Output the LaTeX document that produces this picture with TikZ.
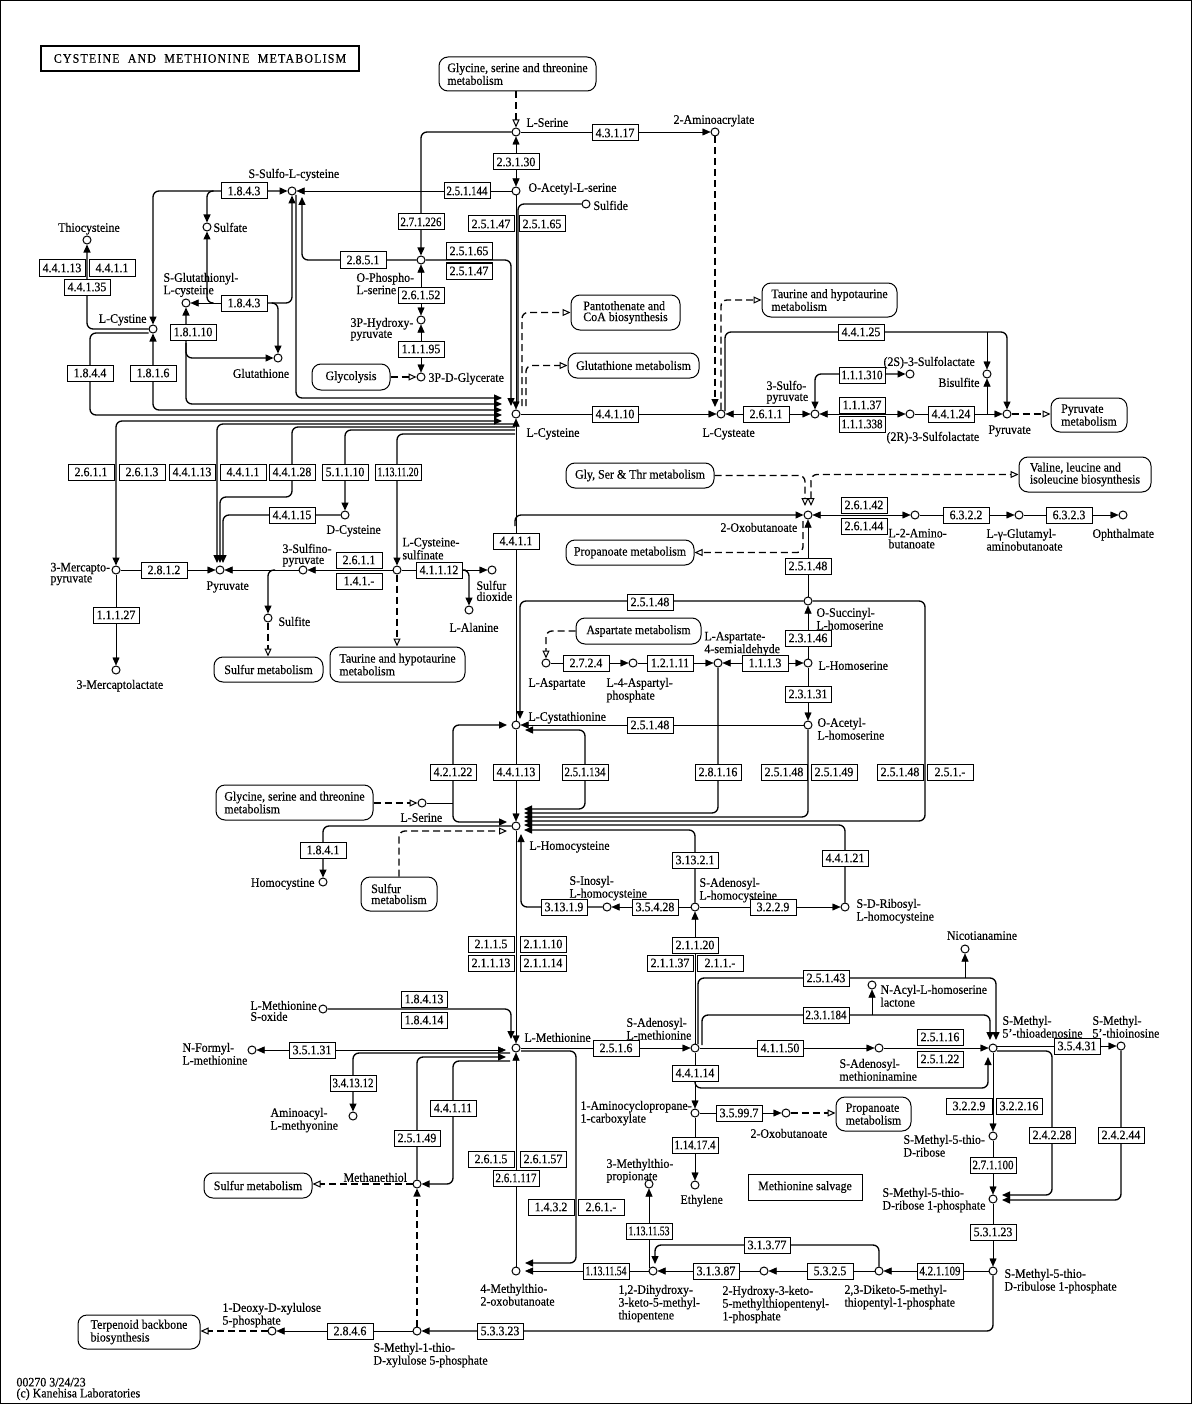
\documentclass[tikz,border=0pt]{standalone}
\usepackage{fontspec}
\setmainfont{Liberation Serif}[FakeStretch=0.92,FakeBold=0.3]
\newfontfamily\titlefont{Liberation Serif}[LetterSpace=9,FakeStretch=0.92,FakeBold=0.3]
\usepackage{graphicx}
\usetikzlibrary{arrows.meta,calc}
\pgfdeclarelayer{bg}
\pgfsetlayers{bg,main}
\newsavebox\ecbx
\newcommand\fitec[1]{\sbox\ecbx{#1}\ifdim\wd\ecbx>41bp\resizebox{41bp}{\height}{\usebox\ecbx}\else\usebox\ecbx\fi}
\newcommand\ts{\rule{0pt}{9pt}}
\begin{document}
\begin{tikzpicture}[x=1bp,y=-1bp,line width=1bp,
  font=\fontsize{13}{11}\selectfont,
  cpd/.style={circle,draw,fill=white,minimum size=8bp,inner sep=0pt},
  ec/.style={draw,fill=white,minimum width=46bp,minimum height=16bp,inner sep=0pt},
  mapb/.style={draw,fill=white,rounded corners=9bp,inner sep=0pt,align=left},
  lbl/.style={inner sep=0pt,anchor=north west,yshift=4.7pt,align=left,execute at begin node=\ts},
  lblr/.style={lbl,anchor=north east,align=right},
  lblc/.style={lbl,anchor=north,align=center},
  ln/.style={rounded corners=6bp},
  bd/.style={line width=1.35bp},
  ar/.style={ln,-{Triangle[length=8bp,width=7bp]}},
  ar2/.style={ln,{Triangle[length=8bp,width=7bp]}-{Triangle[length=8bp,width=7bp]}},
  dsh/.style={dash pattern=on 7bp off 4bp,line width=1.2bp},
  oar/.style={ln,dsh,-{Triangle[open,length=8bp,width=7bp,line width=1bp]}},
  oar2/.style={ln,dsh,{Triangle[open,length=8bp,width=7bp,line width=1bp]}-{Triangle[open,length=8bp,width=7bp,line width=1bp]}}]
\useasboundingbox (0,0) rectangle (1195,1404);

% ---------- title and maps ----------
\node[draw,line width=2bp,minimum width=318bp,minimum height=25bp,inner sep=0pt] (title) at (200,58.5) {\titlefont CYSTEINE\ \ AND\ \ METHIONINE\ \ METABOLISM};
\node[mapb,minimum width=157bp,minimum height=34bp] (mGST1) at (517.5,74) {Glycine, serine and threonine\\metabolism};
\node[mapb,minimum width=109bp,minimum height=35bp] (mPant) at (625.5,312.5) {Pantothenate and\\CoA biosynthesis};
\node[mapb,minimum width=135bp,minimum height=34bp] (mTau1) at (829.5,300) {Taurine and hypotaurine\\metabolism};
\node[mapb,minimum width=78bp,minimum height=26bp] (mGlyc) at (351,377) {Glycolysis};
\node[mapb,minimum width=131bp,minimum height=25bp] (mGSH) at (633.5,365.5) {Glutathione metabolism};
\node[mapb,minimum width=76bp,minimum height=34bp] (mPyr) at (1089,415) {Pyruvate\\metabolism};
\node[mapb,minimum width=148bp,minimum height=25bp] (mGST2) at (640,475.5) {Gly, Ser \& Thr metabolism};
\node[mapb,minimum width=132bp,minimum height=35bp] (mVal) at (1085,474.5) {Valine, leucine and\\isoleucine biosynthesis};
\node[mapb,minimum width=128bp,minimum height=25bp] (mProp1) at (630,552.5) {Propanoate metabolism};
\node[mapb,minimum width=109bp,minimum height=25bp] (mSulf1) at (268.5,669.5) {Sulfur metabolism};
\node[mapb,minimum width=135bp,minimum height=35bp] (mTau2) at (397.5,664.5) {Taurine and hypotaurine\\metabolism};
\node[mapb,minimum width=125bp,minimum height=26bp] (mAsp) at (638.5,631) {Aspartate metabolism};
\node[mapb,minimum width=157bp,minimum height=35bp] (mGST3) at (294.5,802.5) {Glycine, serine and threonine\\metabolism};
\node[mapb,minimum width=76bp,minimum height=34bp] (mSulf2) at (399,894) {Sulfur\\metabolism};
\node[mapb,minimum width=75bp,minimum height=34bp] (mProp2) at (873.5,1114) {Propanoate\\metabolism};
\node[mapb,minimum width=108bp,minimum height=25bp] (mSulf3) at (258,1185.5) {Sulfur metabolism};
\node[mapb,minimum width=122bp,minimum height=34bp] (mTerp) at (139,1332) {Terpenoid backbone\\biosynthesis};
\node[draw,fill=white,minimum width=114bp,minimum height=26bp,inner sep=0pt] (salv) at (805,1187) {Methionine salvage};

% ---------- compounds ----------
\node[cpd] (ser) at (516,132) {};
\node[cpd] (amac) at (715,132) {};
\node[cpd] (oas) at (516,191) {};
\node[cpd] (sulfide) at (586,204) {};
\node[cpd] (ssc) at (292,191) {};
\node[cpd] (sulfate) at (207,227) {};
\node[cpd] (thiocys) at (87,240) {};
\node[cpd] (ophos) at (421,260) {};
\node[cpd] (sglc) at (186,303) {};
\node[cpd] (cystine) at (153,329) {};
\node[cpd] (hpyr) at (421,320) {};
\node[cpd] (gsh) at (278,358) {};
\node[cpd] (pg) at (421,377) {};
\node[cpd] (cys) at (516,414) {};
\node[cpd] (cysteate) at (721,414) {};
\node[cpd] (spyr) at (815,414) {};
\node[cpd] (ssl) at (910,374) {};
\node[cpd] (rsl) at (910,414) {};
\node[cpd] (bisulfite) at (987,374) {};
\node[cpd] (pyr2) at (1007,414) {};
\node[cpd] (dcys) at (345,515) {};
\node[cpd] (mpyr) at (116,570) {};
\node[cpd] (pyr) at (220,570) {};
\node[cpd] (sinpyr) at (303,570) {};
\node[cpd] (csa) at (397,570) {};
\node[cpd] (so2) at (492,570) {};
\node[cpd] (ala) at (469,610) {};
\node[cpd] (sulfite) at (268,618) {};
\node[cpd] (mlac) at (116,670) {};
\node[cpd] (oxo) at (808,515) {};
\node[cpd] (abu) at (915,515) {};
\node[cpd] (gglu) at (1019,515) {};
\node[cpd] (oph) at (1123,515) {};
\node[cpd] (osh) at (808,601) {};
\node[cpd] (asp) at (546,663) {};
\node[cpd] (asp4p) at (633,663) {};
\node[cpd] (asa) at (718,663) {};
\node[cpd] (hser) at (808,663) {};
\node[cpd] (cysta) at (516,725) {};
\node[cpd] (oah) at (808,725) {};
\node[cpd] (ser2) at (422,803) {};
\node[cpd] (hcys) at (516,826) {};
\node[cpd] (hcystine) at (323,882) {};
\node[cpd] (sih) at (607,907) {};
\node[cpd] (sah) at (695,907) {};
\node[cpd] (srh) at (845,907) {};
\node[cpd] (nicot) at (965,949) {};
\node[cpd] (nacyl) at (872,985) {};
\node[cpd] (msox) at (323,1009) {};
\node[cpd] (met) at (516,1048) {};
\node[cpd] (sam) at (695,1048) {};
\node[cpd] (dcsam) at (879,1048) {};
\node[cpd] (mta) at (993,1048) {};
\node[cpd] (mti) at (1121,1046) {};
\node[cpd] (fmet) at (252,1050) {};
\node[cpd] (aamet) at (353,1116) {};
\node[cpd] (acc) at (695,1113) {};
\node[cpd] (oxo2) at (786,1113) {};
\node[cpd] (mtr) at (993,1136) {};
\node[cpd] (mtp) at (649,1184) {};
\node[cpd] (methanethiol) at (417,1184) {};
\node[cpd] (ethylene) at (695,1185) {};
\node[cpd] (mtr1p) at (993,1199) {};
\node[cpd] (kmtb) at (516,1271) {};
\node[cpd] (dhk) at (653,1271) {};
\node[cpd] (hk) at (764,1271) {};
\node[cpd] (dk) at (879,1271) {};
\node[cpd] (mtru1p) at (993,1271) {};
\node[cpd] (dxp) at (272,1331) {};
\node[cpd] (mtxp) at (417,1331) {};

% ---------- enzymes ----------
\node[ec] (e43117) at (615,133) {\fitec{4.3.1.17}};
\node[ec] (e23130) at (516,162) {\fitec{2.3.1.30}};
\node[ec] (e251144) at (467,191) {\fitec{2.5.1.144}};
\node[ec] (e1843a) at (244,191) {\fitec{1.8.4.3}};
\node[ec] (e271226) at (421,222) {\fitec{2.7.1.226}};
\node[ec] (e25147a) at (491,224) {\fitec{2.5.1.47}};
\node[ec] (e25165a) at (542,224) {\fitec{2.5.1.65}};
\node[ec] (e25165b) at (469,251) {\fitec{2.5.1.65}};
\node[ec] (e25147b) at (469,271) {\fitec{2.5.1.47}};
\node[ec] (e2851) at (363,260) {\fitec{2.8.5.1}};
\node[ec] (e44113a) at (62,268) {\fitec{4.4.1.13}};
\node[ec] (e4411a) at (112,268) {\fitec{4.4.1.1}};
\node[ec] (e44135) at (87,287) {\fitec{4.4.1.35}};
\node[ec] (e26152) at (421,295) {\fitec{2.6.1.52}};
\node[ec] (e1843b) at (244,303) {\fitec{1.8.4.3}};
\node[ec] (e18110) at (193,332) {\fitec{1.8.1.10}};
\node[ec] (e11195) at (421,349) {\fitec{1.1.1.95}};
\node[ec] (e44125) at (861,332) {\fitec{4.4.1.25}};
\node[ec] (e1844) at (90,373) {\fitec{1.8.4.4}};
\node[ec] (e1816) at (153,373) {\fitec{1.8.1.6}};
\node[ec] (e111310) at (862,375) {\fitec{1.1.1.310}};
\node[ec] (e11137) at (862,405) {\fitec{1.1.1.37}};
\node[ec] (e111338) at (862,424) {\fitec{1.1.1.338}};
\node[ec] (e44124) at (951,414) {\fitec{4.4.1.24}};
\node[ec] (e44110) at (615,414) {\fitec{4.4.1.10}};
\node[ec] (e2611c) at (766,414) {\fitec{2.6.1.1}};
\node[ec] (e2611a) at (91,472) {\fitec{2.6.1.1}};
\node[ec] (e2613) at (142,472) {\fitec{2.6.1.3}};
\node[ec] (e44113b) at (192,472) {\fitec{4.4.1.13}};
\node[ec] (e4411b) at (243,472) {\fitec{4.4.1.1}};
\node[ec] (e44128) at (292,472) {\fitec{4.4.1.28}};
\node[ec] (e51110) at (345,472) {\fitec{5.1.1.10}};
\node[ec] (e1131120) at (398,472) {\fitec{1.13.11.20}};
\node[ec] (e44115) at (292,515) {\fitec{4.4.1.15}};
\node[ec] (e4411c) at (516,541) {\fitec{4.4.1.1}};
\node[ec] (e26142) at (864,505) {\fitec{2.6.1.42}};
\node[ec] (e26144) at (864,526) {\fitec{2.6.1.44}};
\node[ec] (e6322) at (966,515) {\fitec{6.3.2.2}};
\node[ec] (e6323) at (1069,515) {\fitec{6.3.2.3}};
\node[ec] (e2611b) at (359,560) {\fitec{2.6.1.1}};
\node[ec] (e141) at (359,581) {\fitec{1.4.1.-}};
\node[ec] (e2812) at (164,570) {\fitec{2.8.1.2}};
\node[ec] (e41112) at (439,570) {\fitec{4.1.1.12}};
\node[ec] (e25148a) at (808,566) {\fitec{2.5.1.48}};
\node[ec] (e25148b) at (650,602) {\fitec{2.5.1.48}};
\node[ec] (e11127) at (116,615) {\fitec{1.1.1.27}};
\node[ec] (e23146) at (808,638) {\fitec{2.3.1.46}};
\node[ec] (e2724) at (586,663) {\fitec{2.7.2.4}};
\node[ec] (e12111) at (670,663) {\fitec{1.2.1.11}};
\node[ec] (e1113) at (765,663) {\fitec{1.1.1.3}};
\node[ec] (e23131) at (808,694) {\fitec{2.3.1.31}};
\node[ec] (e25148c) at (650,725) {\fitec{2.5.1.48}};
\node[ec] (e42122) at (453,772) {\fitec{4.2.1.22}};
\node[ec] (e44113c) at (516,772) {\fitec{4.4.1.13}};
\node[ec] (e251134) at (585,772) {\fitec{2.5.1.134}};
\node[ec] (e28116) at (718,772) {\fitec{2.8.1.16}};
\node[ec] (e25148d) at (784,772) {\fitec{2.5.1.48}};
\node[ec] (e25149a) at (834,772) {\fitec{2.5.1.49}};
\node[ec] (e25148e) at (900,772) {\fitec{2.5.1.48}};
\node[ec] (e251x) at (950,772) {\fitec{2.5.1.-}};
\node[ec] (e1841) at (323,850) {\fitec{1.8.4.1}};
\node[ec] (e31321) at (695,860) {\fitec{3.13.2.1}};
\node[ec] (e44121) at (845,858) {\fitec{4.4.1.21}};
\node[ec] (e31319) at (564,907) {\fitec{3.13.1.9}};
\node[ec] (e35428) at (655,907) {\fitec{3.5.4.28}};
\node[ec] (e3229a) at (773,907) {\fitec{3.2.2.9}};
\node[ec] (e2115) at (491,944) {\fitec{2.1.1.5}};
\node[ec] (e21110) at (543,944) {\fitec{2.1.1.10}};
\node[ec] (e21113) at (491,963) {\fitec{2.1.1.13}};
\node[ec] (e21114) at (543,963) {\fitec{2.1.1.14}};
\node[ec] (e21120) at (695,945) {\fitec{2.1.1.20}};
\node[ec] (e21137) at (670,963) {\fitec{2.1.1.37}};
\node[ec] (e2111x) at (720,963) {\fitec{2.1.1.-}};
\node[ec] (e25143) at (826,978) {\fitec{2.5.1.43}};
\node[ec] (e231184) at (826,1015) {\fitec{2.3.1.184}};
\node[ec] (e18413) at (424,999) {\fitec{1.8.4.13}};
\node[ec] (e18414) at (424,1020) {\fitec{1.8.4.14}};
\node[ec] (e25116) at (940,1037) {\fitec{2.5.1.16}};
\node[ec] (e25122) at (940,1059) {\fitec{2.5.1.22}};
\node[ec] (e35431) at (1077,1046) {\fitec{3.5.4.31}};
\node[ec] (e35131) at (312,1050) {\fitec{3.5.1.31}};
\node[ec] (e2516) at (616,1048) {\fitec{2.5.1.6}};
\node[ec] (e41150) at (780,1048) {\fitec{4.1.1.50}};
\node[ec] (e341312) at (353,1083) {\fitec{3.4.13.12}};
\node[ec] (e44114) at (695,1073) {\fitec{4.4.1.14}};
\node[ec] (e3229b) at (969,1106) {\fitec{3.2.2.9}};
\node[ec] (e32216) at (1019,1106) {\fitec{3.2.2.16}};
\node[ec] (e44111) at (453,1108) {\fitec{4.4.1.11}};
\node[ec] (e35997) at (739,1113) {\fitec{3.5.99.7}};
\node[ec] (e24228) at (1052,1135) {\fitec{2.4.2.28}};
\node[ec] (e24244) at (1121,1135) {\fitec{2.4.2.44}};
\node[ec] (e25149b) at (417,1138) {\fitec{2.5.1.49}};
\node[ec] (e114174) at (695,1145) {\fitec{1.14.17.4}};
\node[ec] (e2615) at (491,1159) {\fitec{2.6.1.5}};
\node[ec] (e26157) at (543,1159) {\fitec{2.6.1.57}};
\node[ec] (e271100) at (993,1165) {\fitec{2.7.1.100}};
\node[ec] (e261117) at (516,1178) {\fitec{2.6.1.117}};
\node[ec] (e1432) at (551,1207) {\fitec{1.4.3.2}};
\node[ec] (e261x) at (601,1207) {\fitec{2.6.1.-}};
\node[ec] (e1131153) at (649,1231) {\fitec{1.13.11.53}};
\node[ec] (e53123) at (993,1232) {\fitec{5.3.1.23}};
\node[ec] (e31377) at (767,1245) {\fitec{3.1.3.77}};
\node[ec] (e1131154) at (606,1271) {\fitec{1.13.11.54}};
\node[ec] (e31387) at (716,1271) {\fitec{3.1.3.87}};
\node[ec] (e5325) at (830,1271) {\fitec{5.3.2.5}};
\node[ec] (e421109) at (940,1271) {\fitec{4.2.1.109}};
\node[ec] (e5323) at (500,1331) {\fitec{5.3.3.23}};
\node[ec] (e2846) at (350,1331) {\fitec{2.8.4.6}};

% ---------- labels ----------
\node[lbl] (lser) at (526,122) {L-Serine};
\node[lblc] (lamac) at (714,119) {2-Aminoacrylate};
\node[lbl] (loas) at (528,187) {O-Acetyl-L-serine};
\node[lbl] (lsulfide) at (593,205) {Sulfide};
\node[lbl] (lssc) at (248,173) {S-Sulfo-L-cysteine};
\node[lbl] (lsulfate) at (213,227) {Sulfate};
\node[lblc] (lthiocys) at (89,227) {Thiocysteine};
\node[lbl] (lophos) at (356,277) {O-Phospho-\\L-serine};
\node[lbl] (lsglc) at (163,277) {S-Glutathionyl-\\L-cysteine};
\node[lblr] (lcystine) at (147,318) {L-Cystine};
\node[lbl] (lhpyr) at (350,322) {3P-Hydroxy-\\pyruvate};
\node[lblc] (lgsh) at (261,373) {Glutathione};
\node[lbl] (lpg) at (428,377) {3P-D-Glycerate};
\node[lbl] (lcys) at (526,432) {L-Cysteine};
\node[lbl] (lcysteate) at (702,432) {L-Cysteate};
\node[lbl] (lspyr) at (766,385) {3-Sulfo-\\pyruvate};
\node[lbl] (lssl) at (883,361) {(2S)-3-Sulfolactate};
\node[lblr] (lbisulfite) at (980,382) {Bisulfite};
\node[lbl] (lrsl) at (886,436) {(2R)-3-Sulfolactate};
\node[lbl] (lpyr2) at (988,429) {Pyruvate};
\node[lbl] (ldcys) at (326,529) {D-Cysteine};
\node[lbl] (lmpyr) at (50,567) {3-Mercapto-\\pyruvate};
\node[lbl] (lpyr) at (206,585) {Pyruvate};
\node[lbl] (lsinpyr) at (282,548) {3-Sulfino-\\pyruvate};
\node[lbl] (lcsa) at (402,542) {L-Cysteine-\\sulfinate};
\node[lbl] (lso2) at (476,585) {Sulfur\\dioxide};
\node[lbl] (lala) at (449,627) {L-Alanine};
\node[lbl] (lsulfite) at (278,621) {Sulfite};
\node[lbl] (lmlac) at (76,684) {3-Mercaptolactate};
\node[lbl] (loxo) at (720,527) {2-Oxobutanoate};
\node[lbl] (labu) at (888,533) {L-2-Amino-\\butanoate};
\node[lbl] (lgglu) at (986,533) {L-γ-Glutamyl-\\aminobutanoate};
\node[lbl] (loph) at (1092,533) {Ophthalmate};
\node[lbl] (losh) at (816,612) {O-Succinyl-\\L-homoserine};
\node[lbl] (lasp) at (528,682) {L-Aspartate};
\node[lbl] (lasp4p) at (606,682) {L-4-Aspartyl-\\phosphate};
\node[lbl] (lasa) at (704,636) {L-Aspartate-\\4-semialdehyde};
\node[lbl] (lhser) at (818,665) {L-Homoserine};
\node[lbl] (lcysta) at (528,716) {L-Cystathionine};
\node[lbl] (loah) at (817,722) {O-Acetyl-\\L-homoserine};
\node[lbl] (lser2) at (400,817) {L-Serine};
\node[lbl] (lhcys) at (529,845) {L-Homocysteine};
\node[lblr] (lhcystine) at (315,882) {Homocystine};
\node[lbl] (lsih) at (569,880) {S-Inosyl-\\L-homocysteine};
\node[lbl] (lsah) at (699,882) {S-Adenosyl-\\L-homocysteine};
\node[lbl] (lsrh) at (856,903) {S-D-Ribosyl-\\L-homocysteine};
\node[lblc] (lnicot) at (982,935) {Nicotianamine};
\node[lbl] (lnacyl) at (880,989) {N-Acyl-L-homoserine\\lactone};
\node[lbl] (lmsox) at (250,1005) {L-Methionine\\S-oxide};
\node[lbl] (lmet) at (524,1037) {L-Methionine};
\node[lbl] (lsam) at (626,1022) {S-Adenosyl-\\L-methionine};
\node[lbl] (ldcsam) at (839,1063) {S-Adenosyl-\\methioninamine};
\node[lbl] (lmta) at (1002,1020) {S-Methyl-\\5'-thioadenosine};
\node[lbl] (lmti) at (1092,1020) {S-Methyl-\\5'-thioinosine};
\node[lbl] (lfmet) at (182,1047) {N-Formyl-\\L-methionine};
\node[lbl] (laamet) at (270,1112) {Aminoacyl-\\L-methyonine};
\node[lbl] (lacc) at (580,1105) {1-Aminocyclopropane-\\1-carboxylate};
\node[lbl] (loxo2) at (750,1133) {2-Oxobutanoate};
\node[lbl] (lmtr) at (903,1139) {S-Methyl-5-thio-\\D-ribose};
\node[lbl] (lmtp) at (606,1163) {3-Methylthio-\\propionate};
\node[lbl] (lmethanethiol) at (343,1177) {Methanethiol};
\node[lbl] (lethylene) at (680,1199) {Ethylene};
\node[lbl] (lmtr1p) at (882,1192) {S-Methyl-5-thio-\\D-ribose 1-phosphate};
\node[lbl] (lkmtb) at (480,1288) {4-Methylthio-\\2-oxobutanoate};
\node[lbl] (ldhk) at (618,1289) {1,2-Dihydroxy-\\3-keto-5-methyl-\\thiopentene};
\node[lbl] (lhk) at (722,1290) {2-Hydroxy-3-keto-\\5-methylthiopentenyl-\\1-phosphate};
\node[lbl] (ldk) at (844,1289) {2,3-Diketo-5-methyl-\\thiopentyl-1-phosphate};
\node[lbl] (lmtru1p) at (1004,1273) {S-Methyl-5-thio-\\D-ribulose 1-phosphate};
\node[lbl] (ldxp) at (222,1307) {1-Deoxy-D-xylulose\\5-phosphate};
\node[lbl] (lmtxp) at (373,1347) {S-Methyl-1-thio-\\D-xylulose 5-phosphate};
\node[lbl] (lfoot) at (16,1382) {00270 3/24/23\\(c) Kanehisa Laboratories};

% ---------- connectors ----------
\begin{pgfonlayer}{bg}
% serine block
\draw[oar] (mGST1.south -| ser) -- (ser);
\draw[ar] (ser) -- (amac);
\draw[ar2] (ser) -- (oas);
\draw[ar,bd] (ser) -| (ophos);
\draw[ar,dsh] (amac) -- ($(cysteate)+(-6,-7)$);
\draw[ar] (oas) -- (ssc);
\draw[ar] (oas) -- (cys);
\draw[ln,bd] (sulfide) -| ($(cys)+(2,-12)$);
\draw[ar,bd] (ophos) -| ($(cys)+(-5,-8)$);
\draw[ar,bd] (ophos) -| ($(ssc)+(10,6)$);
\draw[ar,bd] ($(ssc)+(4,4)$) |- ($(cys)+(-14,-16)$);
\draw[ar2] (hpyr) -- (ophos);
\draw[ar2] (pg) -- (hpyr);
\draw[oar] (mGlyc) -- (pg);
% cystine block
\draw[ar2,bd] (cystine) |- (ssc);
\draw[ar,bd] ($(e1843a.west)+(-7,0)$) -| (sulfate);
\draw[ar] (e1843b.west |- sglc) -- (sglc);
\draw[ar,bd] (e1843b.east) -| (ssc);
\draw[ar,bd] ($(e1843b.west)+(-7,0)$) -| (sulfate);
\draw[ar,bd] ($(e1843b.east)+(4,0)$) -| (gsh);
\draw[ar,bd] (cystine) -| (thiocys);
\draw[ar2,bd] (sglc) |- ($(cys)+(-14,-10)$);
\draw[ar,bd] ($(sglc)+(0,40)$) |- (gsh);
\draw[ar2,bd] (cystine) |- ($(cys)+(-14,-4)$);
\draw[ar,bd] ($(cystine.west)+(0,4)$) -| (e1844.center) |- ($(cys)+(-14,1)$);
% cysteine outputs to the left
\draw[ar2,bd] ($(cys)+(-14,7)$) -| (mpyr);
\draw[ar,bd] ($(cys)+(-1,10)$) -| ($(pyr)+(-3,-7)$);
\draw[ar,bd] ($(cys)+(-1,13)$) -| ($(e44128.center)+(0,25)$) -| ($(pyr)+(0,-7)$);
\draw[ar,bd] (dcys) -| ($(pyr)+(3,-7)$);
\draw[ar,bd] ($(cys)+(-1,16)$) -| (dcys);
\draw[ar,bd] ($(cys)+(-1,20)$) -| (csa);
\draw[ar] (csa) -- (sinpyr);
\draw[ar] (sinpyr) -- (pyr);
\draw[ar,bd] ($(sinpyr)+(-28,0)$) -| (sulfite);
\draw[oar] (sulfite) -- (sulfite |- mSulf1.north);
\draw[ar] (mpyr) -- (pyr);
\draw[ar] (mpyr) -- (mlac);
\draw[ar] (csa) -- (so2);
\draw[ar,bd] ($(e41112.east)+(3,0)$) -| (ala);
\draw[oar] (csa) -- (csa |- mTau2.north);
% cysteine to the right
\draw[oar,bd] ($(cys)+(6,-8)$) |- (mPant.west);
\draw[oar,bd] ($(cys)+(10,-8)$) |- (mGSH.west);
\draw[ar] (cys) -- (cysteate);
\draw[oar,bd] (cysteate) |- (mTau1.west);
\draw[ar,bd] ($(cysteate)+(4,-3)$) |- (e44125.center) -| (pyr2);
\draw[ar] (bisulfite |- e44125.center) -- (bisulfite);
\draw[ar2] (cysteate) -- (spyr);
\draw[ar2] (spyr) -- (rsl);
\draw[ar2,bd] (spyr) |- (ssl);
\draw[ar] (rsl) -- (pyr2);
\draw[ar] (bisulfite |- rsl) -- (bisulfite);
\draw[oar] (pyr2) -- (pyr2 -| mPyr.west);
% cystathionine / oxobutanoate
\draw[ar] (cysta) -- (cys);
\draw[ar,bd] ($(cys)+(-1,112)$) |- (oxo);
\draw[oar,bd] (mGST2.east) -| ($(oxo)+(-3,-9)$);
\draw[oar2,bd] ($(oxo)+(3,-9)$) |- (mVal.west);
\draw[oar,bd] ($(oxo)+(-5,6)$) |- (mProp1.east);
\draw[ar2] (oxo) -- (abu);
\draw[ar] (abu) -- (gglu);
\draw[ar] (gglu) -- (oph);
\draw[ar] (osh) -- (oxo);
\draw[ar] (hser) -- (osh);
\draw[ar] (hser) -- (oah);
\draw[ar2] (asa) -- (hser);
\draw[ar] (asp4p) -- (asa);
\draw[ar] (asp) -- (asp4p);
\draw[oar,bd] (mAsp.west) -| (asp);
\draw[ar,bd] (osh) -| ($(cysta)+(4,-6)$);
\draw[ar] (oah) -- (cysta);
\draw[ar2,bd] ($(cysta)+(9,5)$) -| (e251134.center) |- ($(hcys)+(8,-17)$);
\draw[ar] (cysta) -- (hcys);
\draw[ar2,bd] ($(hcys)+(-9,-4)$) -| (e42122.center) |- ($(cysta)+(-9,0)$);
\draw[ln] (ser2) -- (ser2 -| e42122.center);
\draw[oar] (mGST3.east |- ser2) -- (ser2);
\draw[oar,bd] (mSulf2.north) |- ($(hcys)+(-9,5)$);
\draw[ar,bd] (hcys) -| (hcystine);
\draw[ar,bd] (asa) |- ($(hcys)+(8,-13)$);
\draw[ar,bd] (oah) |- ($(hcys)+(8,-9)$);
\draw[ar,bd] (osh) -| ($(e25148e.east)!.5!(e251x.west)$) |- ($(hcys)+(8,-5)$);
\draw[ar,bd] (srh) |- ($(hcys)+(8,-1)$);
\draw[ar,bd] (sah) |- ($(hcys)+(8,4)$);
\draw[ar] (sah) -- (sih);
\draw[ar,bd] (sih) -| ($(hcys)+(5,8)$);
\draw[ar] (sah) -- (srh);
\draw[ar] (sam) -- (sah);
% methionine
\draw[ar] (hcys) -- (met);
\draw[ar,bd] (msox) -| ($(met)+(-5,-9)$);
\draw[ar] (met) -- (sam);
\draw[ar2] ($(met)+(-10,2)$) -- (fmet);
\draw[ar,bd] ($(met)+(-6,5)$) -| (aamet);
\draw[ar,bd] (methanethiol) |- ($(met)+(-10,9)$);
\draw[ar,bd] ($(met)+(-6,13)$) -| (e44111.center) |- (methanethiol);
\draw[oar] (methanethiol) -- (methanethiol -| mSulf3.east);
\draw[ar,dsh] (mtxp) -- (methanethiol);
\draw[ar] (kmtb) -- (met);
\draw[ar,bd] ($(met)+(5,3)$) -| ($(e1432.east)!.5!(e261x.west)$) |- ($(kmtb)+(9,-8)$);
\draw[ar] (dhk) -- ($(kmtb)+(9,0)$);
\draw[ar] ($(dhk)+(-4,-3)$) -- (mtp);
\draw[ar,bd] (dk) |- (e31377.center) -| ($(dhk)+(2,-7)$);
\draw[ar] (hk) -- (dhk);
\draw[ar] (dk) -- (hk);
\draw[ar] (mtru1p) -- (dk);
\draw[ar] (mtr1p) -- (mtru1p);
\draw[ar,bd] (mtru1p) |- (mtxp);
\draw[ar] (mtxp) -- (dxp);
\draw[oar] (dxp) -- (dxp -| mTerp.east);
\draw[ar] (mtr) -- (mtr1p);
\draw[ar] (mta) -- (mtr);
\draw[ar] ($(mta)+(4,-2)$) -- (mti);
\draw[ar,bd] ($(mta)+(4,3)$) -| (e24228.center) |- ($(mtr1p)+(9,-4)$);
\draw[ar,bd] (mti) |- ($(mtr1p)+(9,1)$);
\draw[ar,bd] ($(sam)+(3,-4)$) |- (e25143.center) -| ($(mta)+(3,-8)$);
\draw[ar] (nicot |- e25143.center) -- (nicot);
\draw[ar,bd] ($(sam)+(7,-3)$) |- (e231184.center) -| ($(mta)+(-3,-8)$);
\draw[ar] (nacyl |- e231184.center) -- (nacyl);
\draw[ar] (sam) -- (dcsam);
\draw[ar] (dcsam) -- (mta);
\draw[ar] (sam) -- (acc);
\draw[ar,bd] ($(sam)+(0,35)$) |- ($(mta)+(-5,40)$) -- ($(mta)+(-5,9)$);
\draw[ar] (acc) -- (oxo2);
\draw[oar] (oxo2) -- (oxo2 -| mProp2.west);
\draw[ar] (acc) -- (ethylene);
\end{pgfonlayer}

\draw (0.5,0.5) rectangle (1191.5,1403.5);
\end{tikzpicture}
\end{document}
